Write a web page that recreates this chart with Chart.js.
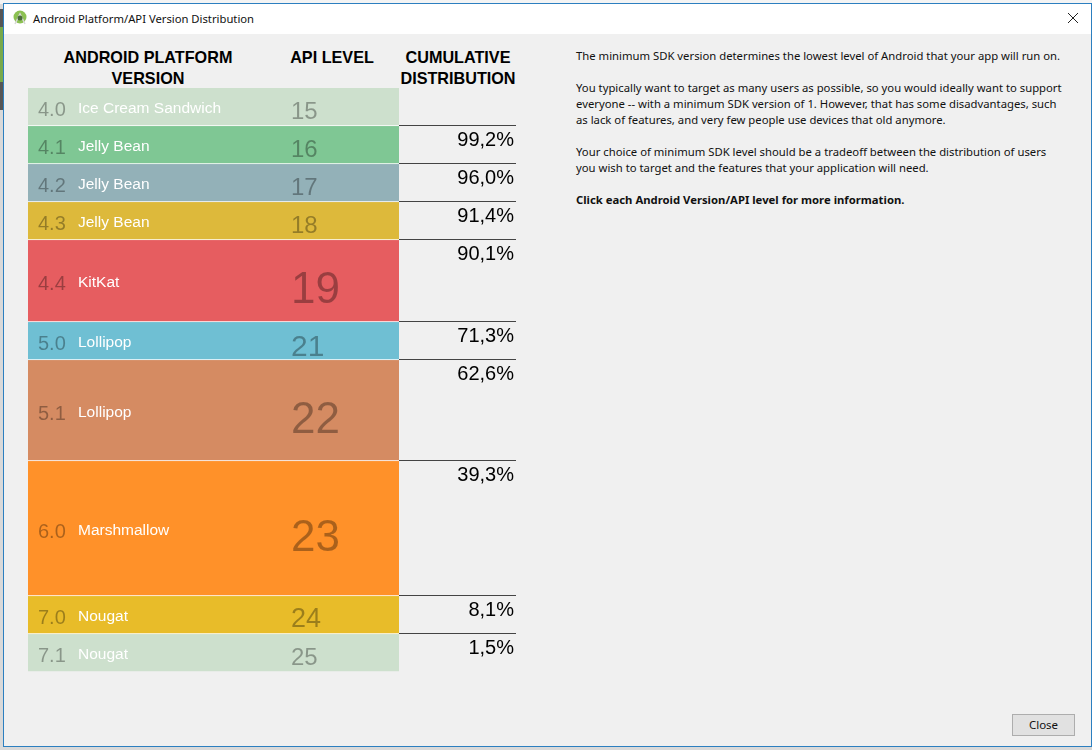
<!DOCTYPE html>
<html>
<head>
<meta charset="utf-8">
<title>Android Platform/API Version Distribution</title>
<script src="https://cdn.jsdelivr.net/npm/chart.js@4"></script>
<style>
html, body { margin: 0; padding: 0; width: 1092px; height: 750px; overflow: hidden; background: #d9d9d9; }
.abs { position: absolute; white-space: nowrap; }
#backdrop-top { left: 0; top: 0; width: 1092px; height: 4px; background: #f4f4f4; }
#backdrop-left { left: 0; top: 9px; width: 3px; height: 101px; background: #565656; }
#backdrop-leaf { left: 0; top: 27px; width: 3px; height: 55px; background: #78a94a; }
#dialog { left: 3px; top: 3px; width: 1087px; height: 742px; background: #f0f0f0; border: 1px solid #2c7fc0; }
#titlebar { left: 4px; top: 4px; width: 1087px; height: 30px; background: #fff; }
#title { left: 33px; top: 11px; font: 11.25px/16px "Noto Sans"; color: #111; }
.header { font: bold 16.2px/21px "Liberation Sans"; color: #000; text-align: center; }
#help { left: 576px; top: 48px; font: 11.3px/16px "Noto Sans"; color: #111; }
#close { left: 1012px; top: 714px; width: 61px; height: 20px; background: #e1e1e1; border: 1px solid #adadad; font: 11.5px/20px "Noto Sans"; color: #111; text-align: center; }
canvas { position: absolute; left: 0; top: 0; }
</style>
</head>
<body>
<div class="abs" id="backdrop-top"></div>
<div class="abs" id="backdrop-left"></div>
<div class="abs" id="backdrop-leaf"></div>
<div class="abs" id="dialog"></div>
<div class="abs" id="titlebar"></div>
<svg class="abs" style="left:12px;top:10px" width="16" height="16">
  <circle cx="8" cy="7" r="6.5" fill="#8cc152"/>
  <path d="M3 14 L8 4 L13 14" fill="none" stroke="#d8d8d8" stroke-width="1.5"/>
  <circle cx="8" cy="8" r="2.5" fill="#4a6b3a"/>
</svg>
<div class="abs" id="title">Android Platform/API Version Distribution</div>
<svg class="abs" style="left:1067px;top:12px" width="12" height="12">
  <path d="M1 1 L11 11 M11 1 L1 11" stroke="#222" stroke-width="1"/>
</svg>

<div class="abs header" style="left:28px;top:47px;width:240px">ANDROID PLATFORM<br>VERSION</div>
<div class="abs header" style="left:272px;top:47px;width:120px">API LEVEL</div>
<div class="abs header" style="left:398px;top:47px;width:120px">CUMULATIVE<br>DISTRIBUTION</div>

<div class="abs" id="help">The minimum SDK version determines the lowest level of Android that your app will run on.<br><br>You typically want to target as many users as possible, so you would ideally want to support<br>everyone -- with a minimum SDK version of 1. However, that has some disadvantages, such<br>as lack of features, and very few people use devices that old anymore.<br><br>Your choice of minimum SDK level should be a tradeoff between the distribution of users<br>you wish to target and the features that your application will need.<br><br><b>Click each Android Version/API level for more information.</b></div>
<div class="abs" id="close">Close</div>

<canvas id="distribution-chart" width="1092" height="750"></canvas>

<script>
// Values
const versionNumbers = ['4.0', '4.1', '4.2', '4.3', '4.4', '5.0', '5.1', '6.0', '7.0', '7.1'];
const versionNames = ['Ice Cream Sandwich', 'Jelly Bean', 'Jelly Bean', 'Jelly Bean', 'KitKat',
    'Lollipop', 'Lollipop', 'Marshmallow', 'Nougat', 'Nougat'];
const apiLevels = [15, 16, 17, 18, 19, 21, 22, 23, 24, 25];
// drawn band size, small versions are padded up to a minimum band
const bandShares = [9.5, 9.5, 9.5, 9.5, 20.5, 9.5, 25.25, 33.75, 9.5, 9.25];
const cumulative = [null, 99.2, 96.0, 91.4, 90.1, 71.3, 62.6, 39.3, 8.1, 1.5];
const bandColors = ['#cde0cd', '#7fc794', '#93b1b8', '#ddb93b', '#e65d60',
    '#6fbfd3', '#d58b62', '#ff9129', '#e8bc29', '#cde0cd'];

const AXIS_MAX = 146;
const RULE_END_X = 516;

// API number size grows with the version's share in the original
function apiFontSize(i) {
    if (bandShares[i] > 15) return 44;
    if (apiLevels[i] === 21) return 30;
    if (apiLevels[i] === 24) return 27;
    return 24;
}

// Draw the version text, API numbers, rules and percentages on top of the bands
const bandLabels = {
    id: 'bandLabels',
    afterDatasetsDraw(chart) {
        const ctx = chart.ctx;
        const y = chart.scales.y;
        const area = chart.chartArea;
        let stacked = 0;

        ctx.save();
        bandShares.forEach((share, i) => {
            const top = y.getPixelForValue(stacked);
            const bottom = y.getPixelForValue(stacked + share);
            const middle = (top + bottom) / 2;
            stacked += share;

            const big = share > 15;
            ctx.textAlign = 'left';
            ctx.textBaseline = 'alphabetic';

            ctx.fillStyle = 'rgba(0, 0, 0, 0.33)';
            ctx.font = '20px "Liberation Sans"';
            ctx.fillText(versionNumbers[i], 38, middle + 9);

            ctx.fillStyle = '#fff';
            ctx.font = '15.5px "Liberation Sans"';
            ctx.fillText(versionNames[i], 78, middle + 6);

            // the 21 sits a little lower than its neighbours in the original
            ctx.fillStyle = 'rgba(0, 0, 0, 0.33)';
            ctx.font = apiFontSize(i) + 'px "Liberation Sans"';
            const drop = big ? 22 : (apiLevels[i] === 21 ? 15 : 12);
            ctx.fillText(String(apiLevels[i]), 291, middle + drop);

            if (cumulative[i] !== null) {
                ctx.fillStyle = '#444';
                ctx.fillRect(area.right, top - 1, RULE_END_X - area.right, 1);

                ctx.fillStyle = '#000';
                ctx.font = '20px "Liberation Sans"';
                ctx.textAlign = 'right';
                ctx.fillText(cumulative[i].toFixed(1).replace('.', ',') + '%', 514, top + 20);
            }
        });
        ctx.restore();
    }
};

const ctx = document.getElementById('distribution-chart').getContext('2d');
new Chart(ctx, {
    type: 'bar',
    data: {
        labels: ['Distribution'],
        datasets: bandShares.map((share, i) => ({
            label: versionNumbers[i],
            data: [share],
            backgroundColor: bandColors[i],
            borderColor: '#fff',
            borderSkipped: false,
            borderWidth: { top: 0, left: 0, right: 0, bottom: i < bandShares.length - 1 ? 1 : 0 },
            barPercentage: 1,
            categoryPercentage: 1
        }))
    },
    options: {
        responsive: false,
        animation: false,
        layout: { padding: { left: 28, right: 693, top: 88, bottom: 78 } },
        scales: {
            x: { stacked: true, display: false },
            y: { stacked: true, display: false, reverse: true, min: 0, max: AXIS_MAX }
        },
        plugins: {
            legend: { display: false },
            title: { display: false },
            tooltip: { enabled: false }
        }
    },
    plugins: [bandLabels]
});
</script>
</body>
</html>
